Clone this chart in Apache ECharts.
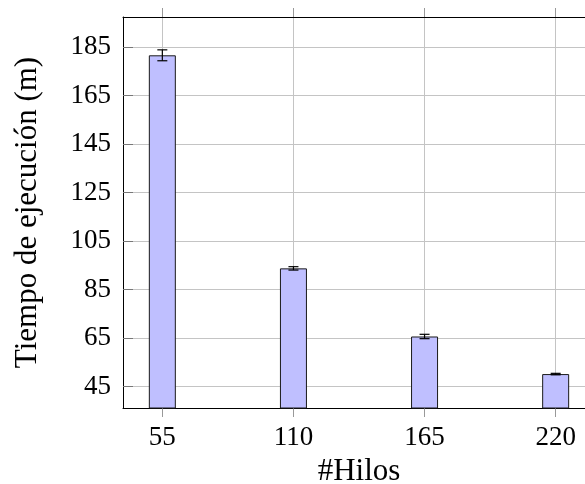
<!DOCTYPE html>
<html>
<head>
<meta charset="utf-8">
<script src="https://cdn.jsdelivr.net/npm/echarts@6/dist/echarts.min.js"></script>
<style>
  html, body { margin: 0; padding: 0; background: #fff; }
  #chart { width: 585px; height: 484px; }
</style>
</head>
<body>
<div id="chart"></div>
<script>
// datos
const threads = [55, 110, 165, 220];
const times = [181.6, 93.7, 65.6, 50.1];
const errors = [2.25, 0.7, 0.9, 0.3];
const xTicks = [55, 110, 165, 220];
const yTicks = [45, 65, 85, 105, 125, 145, 165, 185];

const FONT = 'Liberation Serif';

const chart = echarts.init(document.getElementById('chart'), null, { renderer: 'canvas' });

// eje x: marcas hacia fuera (arriba y abajo)
const xBase = {
  type: 'value',
  min: 38.5,
  max: 236.5,
  axisLine: { show: true, lineStyle: { color: '#000', width: 1 } },
  axisTick: {
    show: true, inside: false, length: 9, customValues: xTicks,
    lineStyle: { color: '#999', width: 1 },
  },
  splitLine: { show: true, lineStyle: { color: '#c4c4c4', width: 1 } },
};

// eje y: marcas hacia dentro (izquierda y derecha)
const yBase = {
  type: 'value',
  min: 36.1,
  max: 197.4,
  axisLine: { show: true, lineStyle: { color: '#000', width: 1 } },
  axisTick: {
    show: true, inside: true, length: 10, customValues: yTicks,
    lineStyle: { color: '#777', width: 1 },
  },
  splitLine: { show: true, lineStyle: { color: '#c4c4c4', width: 1 } },
};

chart.setOption({
  animation: false,
  grid: {
    left: 123, top: 17, width: 472, height: 391,
    containLabel: false, outerBoundsMode: 'none',
  },
  xAxis: [
    {
      ...xBase,
      position: 'bottom',
      name: '#Hilos',
      nameLocation: 'middle',
      nameGap: 42,
      nameTextStyle: { fontFamily: FONT, fontSize: 31, color: '#000' },
      axisLabel: {
        customValues: xTicks, margin: 16,
        fontFamily: FONT, fontSize: 27, color: '#000',
      },
    },
    {
      ...xBase,
      position: 'top',
      axisLabel: { show: false },
      splitLine: { show: false },
    },
  ],
  yAxis: [
    {
      ...yBase,
      position: 'left',
      name: 'Tiempo de ejecución (m)',
      nameLocation: 'middle',
      nameGap: 80,
      nameTextStyle: { fontFamily: FONT, fontSize: 31, color: '#000' },
      axisLabel: {
        customValues: yTicks, margin: 12,
        fontFamily: FONT, fontSize: 27, color: '#000',
      },
    },
    {
      ...yBase,
      position: 'right',
      axisLabel: { show: false },
      splitLine: { show: false },
    },
  ],
  series: [
    {
      type: 'bar',
      barWidth: 27,
      itemStyle: { color: '#bfbfff', borderColor: '#1a1a1a', borderWidth: 1 },
      data: threads.map((t, i) => [t, times[i]]),
      z: 3,
    },
    {
      // barras de error
      type: 'custom',
      z: 4,
      data: threads.map((t, i) => [t, times[i] - errors[i], times[i] + errors[i]]),
      renderItem: (params, api) => {
        const lo = api.coord([api.value(0), api.value(1)]);
        const hi = api.coord([api.value(0), api.value(2)]);
        const w = 5;
        const style = { stroke: '#000', lineWidth: 1.2 };
        return {
          type: 'group',
          children: [
            { type: 'line', shape: { x1: lo[0], y1: lo[1], x2: hi[0], y2: hi[1] }, style },
            { type: 'line', shape: { x1: hi[0] - w, y1: hi[1], x2: hi[0] + w, y2: hi[1] }, style },
            { type: 'line', shape: { x1: lo[0] - w, y1: lo[1], x2: lo[0] + w, y2: lo[1] }, style },
          ],
        };
      },
    },
  ],
});
</script>
</body>
</html>
